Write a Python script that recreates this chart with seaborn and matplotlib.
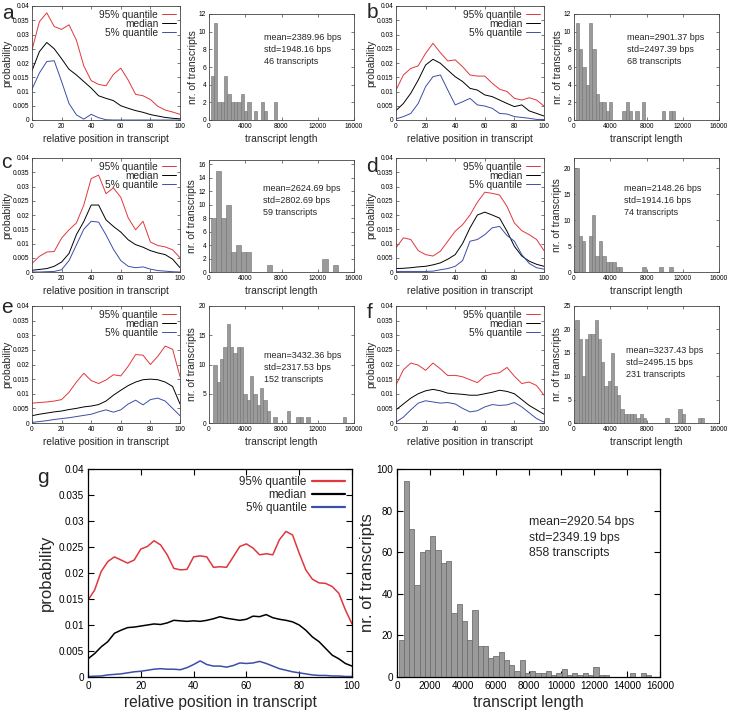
import numpy as np
import pandas as pd
import matplotlib
matplotlib.use('Agg')
import matplotlib.pyplot as plt
import seaborn as sns

# --- Datos ---

# Posicion relativa en el transcrito (paneles pequeños cada 5, panel g cada 2.5)
pos_rel = [0, 5, 10, 15, 20, 25, 30, 35, 40, 45, 50, 55, 60, 65, 70, 75, 80, 85, 90, 95, 100]
pos_rel_g = [0, 2.5, 5, 7.5, 10, 12.5, 15, 17.5, 20, 22.5, 25, 27.5, 30, 32.5, 35, 37.5, 40,
             42.5, 45, 47.5, 50, 52.5, 55, 57.5, 60, 62.5, 65, 67.5, 70, 72.5, 75, 77.5, 80,
             82.5, 85, 87.5, 90, 92.5, 95, 97.5, 100]

# Panel a
q95_a = [0.0246, 0.0345, 0.0376, 0.0328, 0.0318, 0.0334, 0.0280, 0.0190, 0.0138, 0.0125, 0.0120,
         0.0160, 0.0182, 0.0140, 0.0090, 0.0085, 0.0072, 0.0048, 0.0035, 0.0028, 0.0020]
med_a = [0.0173, 0.0240, 0.0272, 0.0250, 0.0215, 0.0178, 0.0158, 0.0135, 0.0112, 0.0085, 0.0076,
         0.0068, 0.0050, 0.0041, 0.0033, 0.0027, 0.0019, 0.0014, 0.0009, 0.0006, 0.0004]
q5_a = [0.0108, 0.0165, 0.0205, 0.0208, 0.0135, 0.0058, 0.0018, 0.0003, 0.0020, 0.0008, 0.0001,
        0, 0, 0, 0, 0, 0, 0, 0, 0, 0]
conteo_a = [5, 11, 2, 2, 5, 3, 2, 2, 2, 3, 1, 2, 0, 1, 0, 2, 1, 0, 0, 2]
texto_a = 'mean=2389.96 bps\nstd=1948.16 bps\n46 transcripts'

# Panel b
q95_b = [0.0105, 0.0158, 0.0181, 0.0190, 0.0234, 0.0269, 0.0236, 0.0207, 0.0211, 0.0187, 0.0158,
         0.0154, 0.0154, 0.0129, 0.0108, 0.0100, 0.0076, 0.0070, 0.0078, 0.0070, 0.0049]
med_b = [0.0033, 0.0058, 0.0094, 0.0140, 0.0193, 0.0213, 0.0199, 0.0175, 0.0152, 0.0135, 0.0111,
         0.0105, 0.0088, 0.0082, 0.0070, 0.0058, 0.0047, 0.0053, 0.0032, 0.0023, 0.0014]
q5_b = [0.0004, 0.0012, 0.0023, 0.0058, 0.0117, 0.0152, 0.0158, 0.0105, 0.0053, 0.0064, 0.0076,
        0.0053, 0.0049, 0.0041, 0.0023, 0.0021, 0.0012, 0.0009, 0.0006, 0.0002, 0.0002]
conteo_b = [11, 8, 6, 4, 11, 8, 3, 2, 2, 1, 2, 0, 0, 0, 1, 2, 1, 0, 1, 0, 2, 0, 0, 0, 0, 0, 1, 0, 1, 1]
texto_b = 'mean=2901.37 bps\nstd=2497.39 bps\n68 transcripts'

# Panel c
q95_c = [0.0030, 0.0055, 0.0070, 0.0072, 0.0119, 0.0148, 0.0172, 0.0235, 0.0328, 0.0340, 0.0275,
         0.0295, 0.0262, 0.0190, 0.0148, 0.0178, 0.0105, 0.0093, 0.0088, 0.0078, 0.0050]
med_c = [0.0006, 0.0009, 0.0012, 0.0020, 0.0035, 0.0065, 0.0131, 0.0177, 0.0235, 0.0235, 0.0183,
         0.0160, 0.0140, 0.0113, 0.0096, 0.0087, 0.0075, 0.0067, 0.0061, 0.0045, 0.0015]
q5_c = [0.0000, 0.0000, 0.0001, 0.0002, 0.0008, 0.0040, 0.0095, 0.0150, 0.0178, 0.0175, 0.0130,
        0.0080, 0.0040, 0.0020, 0.0015, 0.0018, 0.0010, 0.0005, 0.0003, 0.0001, 0.0000]
conteo_c = [8, 15, 8, 10, 3, 4, 3, 3, 0, 0, 0, 1, 0, 0, 0, 0, 0, 0, 0, 0, 0, 0, 2, 0, 1]
texto_c = 'mean=2624.69 bps\nstd=2802.69 bps\n59 transcripts'

# Panel d
q95_d = [0.0085, 0.0120, 0.0114, 0.0075, 0.0061, 0.0056, 0.0073, 0.0108, 0.0143, 0.0166, 0.0200,
         0.0245, 0.0280, 0.0276, 0.0270, 0.0230, 0.0172, 0.0145, 0.0131, 0.0114, 0.0075]
med_d = [0.0012, 0.0013, 0.0015, 0.0018, 0.0020, 0.0025, 0.0032, 0.0045, 0.0061, 0.0100, 0.0155,
         0.0200, 0.0210, 0.0200, 0.0189, 0.0143, 0.0090, 0.0056, 0.0038, 0.0027, 0.0020]
q5_d = [0.0002, 0.0002, 0.0002, 0.0002, 0.0002, 0.0003, 0.0008, 0.0012, 0.0020, 0.0040, 0.0108,
        0.0114, 0.0131, 0.0155, 0.0160, 0.0128, 0.0108, 0.0061, 0.0030, 0.0015, 0.0010]
conteo_d = [20, 7, 6, 0, 7, 11, 3, 6, 3, 2, 2, 2, 1, 1, 0, 0, 0, 0, 0, 0, 1, 0, 0, 0, 0, 1, 0, 0, 1]
texto_d = 'mean=2148.26 bps\nstd=1914.16 bps\n74 transcripts'

# Panel e
q95_e = [0.0068, 0.0070, 0.0072, 0.0075, 0.0080, 0.0105, 0.0140, 0.0170, 0.0145, 0.0135, 0.0147,
         0.0165, 0.0161, 0.0194, 0.0234, 0.0232, 0.0200, 0.0228, 0.0263, 0.0252, 0.0159]
med_e = [0.0025, 0.0030, 0.0034, 0.0038, 0.0041, 0.0046, 0.0050, 0.0055, 0.0058, 0.0063, 0.0075,
         0.0095, 0.0112, 0.0128, 0.0140, 0.0148, 0.0150, 0.0148, 0.0140, 0.0125, 0.0065]
q5_e = [0.0002, 0.0005, 0.0008, 0.0012, 0.0015, 0.0018, 0.0022, 0.0026, 0.0030, 0.0038, 0.0045,
        0.0037, 0.0045, 0.0065, 0.0078, 0.0062, 0.0080, 0.0085, 0.0075, 0.0050, 0.0025]
conteo_e = [10, 7, 11, 13, 17, 13, 12, 13, 13, 5, 4, 8, 5, 3, 6, 4, 2, 0, 1, 0,
            0, 0, 2, 0, 0, 1, 1, 0, 1, 0, 0, 0, 0, 0, 0, 0, 0, 0, 0, 1]
texto_e = 'mean=3432.36 bps\nstd=2317.53 bps\n152 transcripts'

# Panel f
q95_f = [0.0130, 0.0182, 0.0205, 0.0198, 0.0180, 0.0205, 0.0185, 0.0162, 0.0163, 0.0158, 0.0148,
         0.0138, 0.0160, 0.0168, 0.0172, 0.0190, 0.0160, 0.0135, 0.0140, 0.0128, 0.0095]
med_f = [0.0045, 0.0065, 0.0085, 0.0100, 0.0110, 0.0115, 0.0110, 0.0102, 0.0100, 0.0098, 0.0095,
         0.0095, 0.0100, 0.0105, 0.0112, 0.0108, 0.0100, 0.0080, 0.0060, 0.0045, 0.0030]
q5_f = [0.0003, 0.0020, 0.0045, 0.0068, 0.0076, 0.0072, 0.0068, 0.0070, 0.0065, 0.0050, 0.0038,
        0.0042, 0.0055, 0.0063, 0.0060, 0.0062, 0.0070, 0.0055, 0.0035, 0.0015, 0.0003]
conteo_f = [22, 18, 10, 18, 19, 19, 22, 18, 13, 8, 9, 15, 8, 6, 3, 2, 2, 2, 2, 1,
            2, 1, 0, 0, 0, 0, 0, 0, 1, 0, 0, 0, 3, 2, 0, 0, 0, 0, 1, 1]
texto_f = 'mean=3237.43 bps\nstd=2495.15 bps\n231 transcripts'

# Panel g (todos los transcritos)
q95_g = [0.0148, 0.0167, 0.0203, 0.0222, 0.0231, 0.0225, 0.0219, 0.0225, 0.0246, 0.0251, 0.0262,
         0.0254, 0.0235, 0.0209, 0.0206, 0.0207, 0.0231, 0.0233, 0.0231, 0.0211, 0.0212, 0.0211,
         0.0231, 0.0251, 0.0256, 0.0248, 0.0235, 0.0237, 0.0235, 0.0264, 0.0280, 0.0273, 0.0238,
         0.0206, 0.0188, 0.0181, 0.0180, 0.0174, 0.0161, 0.0129, 0.0102]
med_g = [0.0035, 0.0045, 0.0058, 0.0068, 0.0084, 0.0090, 0.0095, 0.0096, 0.0098, 0.0100, 0.0102,
         0.0101, 0.0104, 0.0109, 0.0108, 0.0107, 0.0108, 0.0107, 0.0109, 0.0112, 0.0116, 0.0113,
         0.0111, 0.0109, 0.0111, 0.0117, 0.0116, 0.0120, 0.0114, 0.0111, 0.0109, 0.0106, 0.0100,
         0.0090, 0.0077, 0.0068, 0.0055, 0.0042, 0.0035, 0.0026, 0.0021]
q5_g = [0.0001, 0.00015, 0.0002, 0.0004, 0.0005, 0.0006, 0.0008, 0.0010, 0.0011, 0.0013, 0.0015,
        0.0016, 0.0015, 0.0015, 0.0014, 0.0018, 0.0024, 0.0031, 0.0024, 0.0021, 0.0021, 0.0019,
        0.0022, 0.0027, 0.0026, 0.0027, 0.0030, 0.0026, 0.0021, 0.0016, 0.0013, 0.0010, 0.0008,
        0.0006, 0.0004, 0.0003, 0.0003, 0.0002, 0.0002, 0.0001, 0.0001]
conteo_g = [18, 94, 71, 44, 60, 61, 68, 61, 55, 56, 31, 35, 27, 18, 32, 15, 15, 9, 10, 12,
            8, 6, 3, 8, 2, 3, 2, 2, 3, 1, 2, 4, 1, 2, 1, 2, 1, 5, 1, 1,
            0, 0, 0, 0, 2, 0, 2, 1]
texto_g = 'mean=2920.54 bps\nstd=2349.19 bps\n858 transcripts'

# Inicio y ancho de los bins de cada histograma (bps)
inicio_bins = {'a': 180, 'b': 180, 'c': 200, 'd': 150, 'e': 480, 'f': 150, 'g': 100}
ancho_bins = {'a': 367, 'b': 367, 'c': 560, 'd': 370, 'e': 367, 'f': 355, 'g': 320}

nombres_series = ['95% quantile', 'median', '5% quantile']
colores_series = ['#e0373c', '#000000', '#3c4ea6']

# --- Estilo ---
sns.set_theme(style='ticks')
plt.rcParams['font.family'] = ['Liberation Sans', 'DejaVu Sans']

fig = plt.figure(figsize=(7.3, 7.12), dpi=100)


def rect(l, t, r, b):
    # Caja en pixeles -> coordenadas de la figura
    return [l / 730, 1 - b / 712, (r - l) / 730, (b - t) / 712]


def estilo_ejes(ax, chico):
    color_marco = '#444444' if chico else '#000000'
    for s in ax.spines.values():
        s.set_visible(True)
        s.set_color(color_marco)
        s.set_linewidth(0.6 if chico else 0.9)
    ax.tick_params(direction='in', top=True, right=True,
                   length=2.5 if chico else 4, width=0.5 if chico else 0.8,
                   labelsize=4.8 if chico else 7.2, pad=2 if chico else 3,
                   color=color_marco, labelcolor='black')


def dibujar_curvas(ax, x, q95, med, q5, chico):
    lw = 0.7 if chico else 1.1
    for serie, nombre, color in zip([q95, med, q5], nombres_series, colores_series):
        sns.lineplot(x=x, y=serie, ax=ax, color=color, linewidth=lw, label=nombre)
    ax.set_xlim(0, 100)
    ax.set_ylim(0, 0.04)
    ticks_y = [0, 0.005, 0.01, 0.015, 0.02, 0.025, 0.03, 0.035, 0.04]
    ax.set_yticks(ticks_y)
    ax.set_yticklabels([f'{v:g}' for v in ticks_y])
    ax.set_xticks([0, 20, 40, 60, 80, 100])
    if chico:
        leg = ax.legend(loc='upper right', markerfirst=False, frameon=False, fontsize=7.3,
                        handlelength=1.4, handletextpad=0.4, labelspacing=-0.1,
                        borderpad=0, borderaxespad=0.35)
        ax.set_xlabel('relative position in transcript', fontsize=7.3, labelpad=3)
        ax.set_ylabel('probability', fontsize=7.5, labelpad=0)
    else:
        leg = ax.legend(loc='upper right', markerfirst=False, frameon=False, fontsize=8.4,
                        handlelength=2.8, handletextpad=0.5, labelspacing=0.1,
                        borderpad=0, borderaxespad=0.6)
        for linea in leg.get_lines():
            linea.set_linewidth(1.6)
        ax.set_xlabel('relative position in transcript', fontsize=11.2, labelpad=3)
        ax.set_ylabel('probability', fontsize=12, labelpad=3)
    estilo_ejes(ax, chico)


def dibujar_hist(ax, conteos, inicio, ancho, chico):
    bordes = [inicio + ancho * k for k in range(len(conteos) + 1)]
    tabla = pd.DataFrame({
        'longitud': [(bordes[k] + bordes[k + 1]) / 2 for k in range(len(conteos))],
        'n': conteos,
    })
    sns.histplot(data=tabla, x='longitud', weights='n', bins=bordes, ax=ax, color='#9a9a9a',
                 edgecolor='#707070', linewidth=0.4 if chico else 0.6, alpha=1)
    ax.set_xlim(0, 16000)
    if chico:
        ax.set_xticks([0, 4000, 8000, 12000, 16000])
        ax.set_xlabel('transcript length', fontsize=7.3, labelpad=3)
        ax.set_ylabel('nr. of transcripts', fontsize=7.5, labelpad=1)
    else:
        ax.set_xticks(range(0, 16001, 2000))
        ax.set_xlabel('transcript length', fontsize=11.2, labelpad=3)
        ax.set_ylabel('nr. of transcripts', fontsize=12, labelpad=1)
    estilo_ejes(ax, chico)


# --- Paneles pequeños a-f ---
paneles = [
    ('a', q95_a, med_a, q5_a, conteo_a, texto_a),
    ('b', q95_b, med_b, q5_b, conteo_b, texto_b),
    ('c', q95_c, med_c, q5_c, conteo_c, texto_c),
    ('d', q95_d, med_d, q5_d, conteo_d, texto_d),
    ('e', q95_e, med_e, q5_e, conteo_e, texto_e),
    ('f', q95_f, med_f, q5_f, conteo_f, texto_f),
]

# Cajas en pixeles: curvas, histograma, limite y del histograma, ticks y, texto, letra
cajas = {
    'a': dict(curva=(32, 6, 180, 120), hist=(209, 14, 354, 120), ymax=12, paso=2,
              texto=(264, 33), letra=(2, 19)),
    'b': dict(curva=(396, 6, 544, 120), hist=(574, 14, 719, 120), ymax=12, paso=2,
              texto=(627, 33), letra=(367, 18)),
    'c': dict(curva=(32, 158, 180, 272), hist=(209, 160, 354, 272), ymax=16.6, paso=2,
              texto=(263, 184), letra=(1, 168)),
    'd': dict(curva=(396, 158, 544, 272), hist=(574, 158, 719, 272), ymax=22, paso=5,
              texto=(624, 184), letra=(366, 172)),
    'e': dict(curva=(32, 306, 180, 423), hist=(209, 306, 354, 423), ymax=20, paso=5,
              texto=(264, 351), letra=(1, 313)),
    'f': dict(curva=(396, 306, 544, 423), hist=(574, 306, 719, 423), ymax=25, paso=5,
              texto=(626, 346), letra=(367, 318)),
}

for letra, q95, med, q5, conteo, texto in paneles:
    caja = cajas[letra]
    ax_c = fig.add_axes(rect(*caja['curva']))
    dibujar_curvas(ax_c, pos_rel, q95, med, q5, chico=True)

    ax_h = fig.add_axes(rect(*caja['hist']))
    dibujar_hist(ax_h, conteo, inicio_bins[letra], ancho_bins[letra], chico=True)
    ax_h.set_ylim(0, caja['ymax'])
    ax_h.set_yticks(np.arange(0, caja['ymax'] + 0.01, caja['paso']))

    tx, ty = caja['texto']
    fig.text(tx / 730, 1 - ty / 712, texto, fontsize=6.5, va='top', linespacing=1.45)
    lx, ly = caja['letra']
    fig.text(lx / 730, 1 - ly / 712, letra, fontsize=15, va='baseline', ha='left')

# --- Panel g ---
ax_g = fig.add_axes(rect(88, 469, 352, 677))
dibujar_curvas(ax_g, pos_rel_g, q95_g, med_g, q5_g, chico=False)

ax_gh = fig.add_axes(rect(397, 469, 660, 677))
dibujar_hist(ax_gh, conteo_g, inicio_bins['g'], ancho_bins['g'], chico=False)
ax_gh.set_ylim(0, 100)
ax_gh.set_yticks([0, 20, 40, 60, 80, 100])

fig.text(529 / 730, 1 - 516 / 712, texto_g, fontsize=8.8, va='top', linespacing=1.4)
fig.text(37 / 730, 1 - 483 / 712, 'g', fontsize=15, va='baseline', ha='left')

fig.savefig('out.png', dpi=100)
